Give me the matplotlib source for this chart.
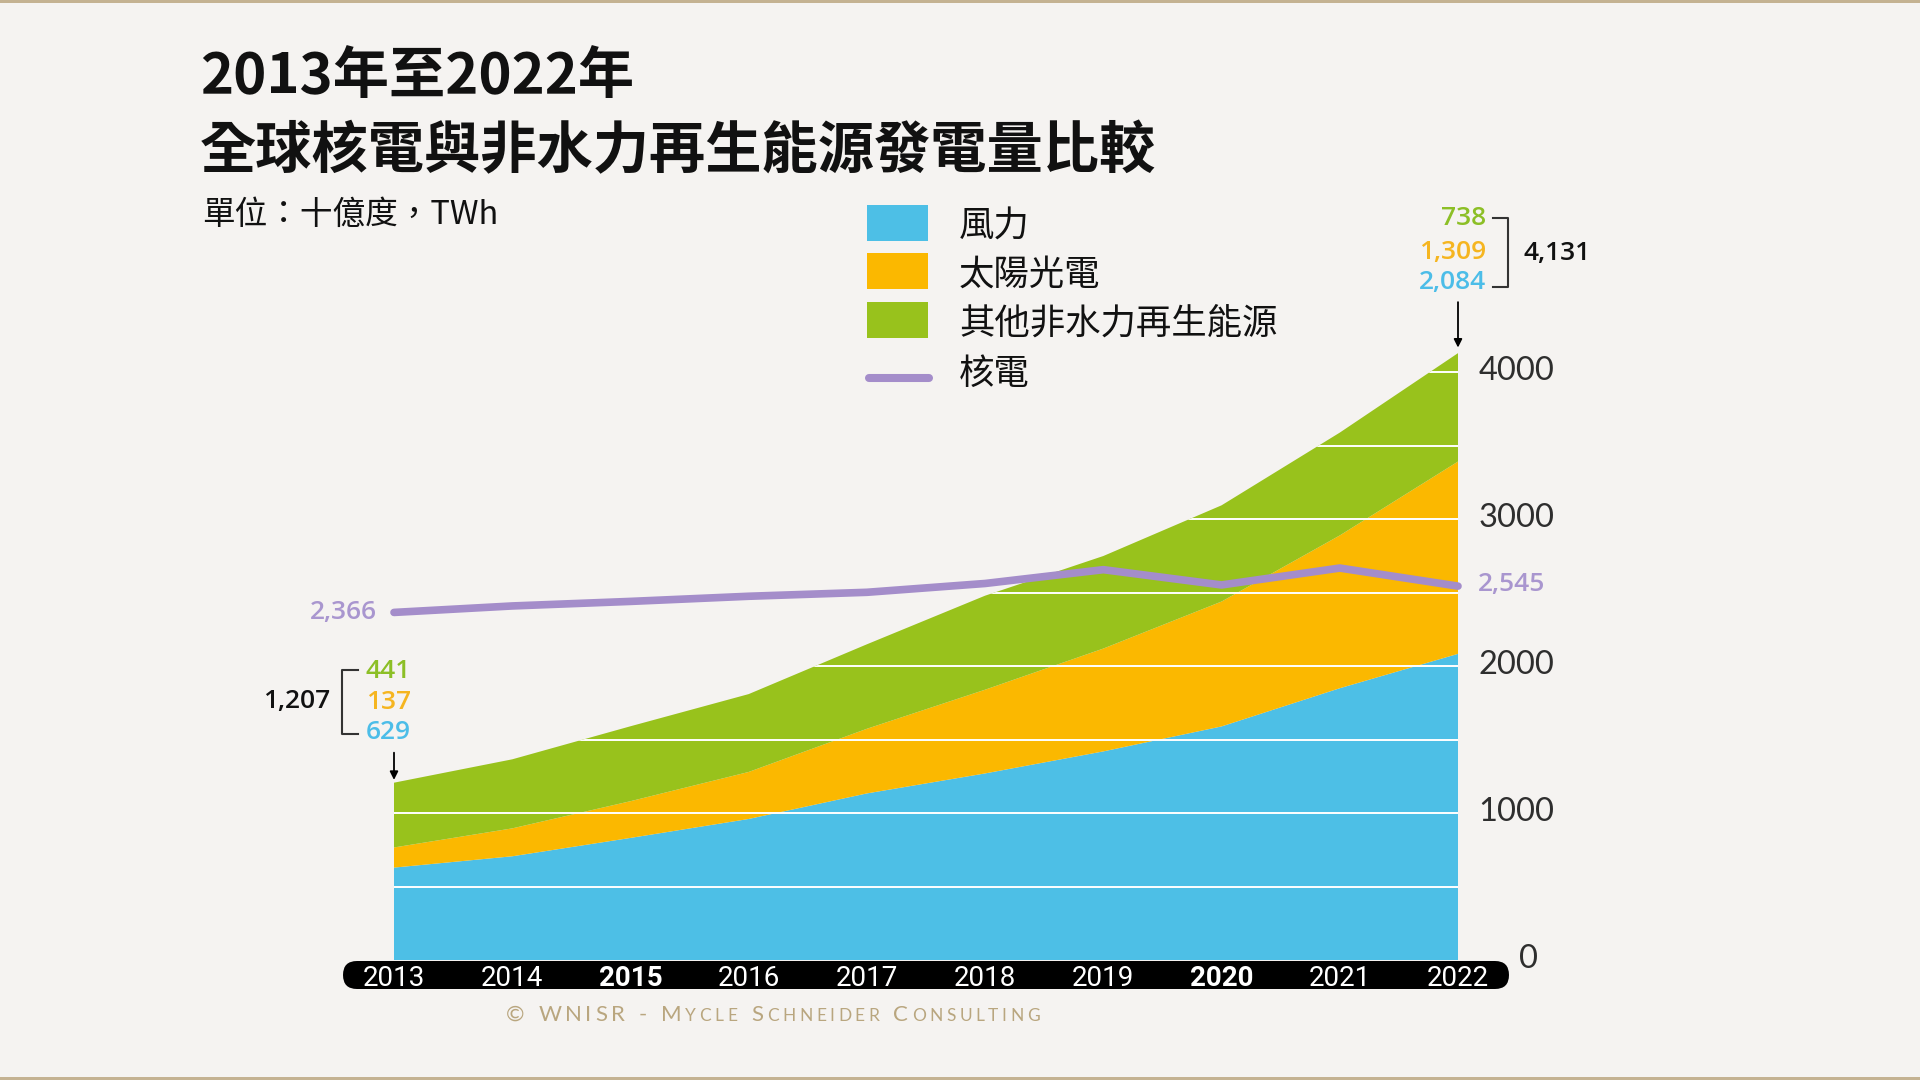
import matplotlib
matplotlib.use("Agg")
import matplotlib.pyplot as plt
from matplotlib.lines import Line2D
from matplotlib.patches import FancyBboxPatch, Rectangle
from matplotlib.transforms import (IdentityTransform, ScaledTranslation,
                                   blended_transform_factory)

# data (TWh)
years = [2013, 2014, 2015, 2016, 2017, 2018, 2019, 2020, 2021, 2022]
wind = [629, 706, 831, 960, 1134, 1270, 1420, 1590, 1850, 2084]
solar = [137, 190, 250, 320, 440, 570, 700, 850, 1040, 1309]
other = [441, 470, 510, 530, 575, 640, 630, 655, 700, 738]
nuclear = [2366, 2410, 2441, 2476, 2503, 2563, 2657, 2553, 2668, 2545]

series_names = ["風力", "太陽光電", "其他非水力再生能源"]
nuclear_name = "核電"
y_ticks = [0, 1000, 2000, 3000, 4000]
grid_values = [500, 1000, 1500, 2000, 2500, 3000, 3500, 4000]
bold_years = [2015, 2020]

BG = "#f5f3f1"
WIND = "#4dbfe6"
SOLAR = "#fbb800"
OTHER = "#98c21c"
NUKE = "#a48dca"
NUKE_TXT = "#a996cf"
TAN = "#b9a67f"
NUM_FONT = ["Open Sans", "DejaVu Sans"]

plt.rcParams['font.family'] = ['Noto Sans CJK TC', 'DejaVu Sans']

W, H = 1920, 1080


def fx(x):
    return x / W


def fy(y):
    return 1 - y / H


fig = plt.figure(figsize=(19.2, 10.8), dpi=100, facecolor=BG)
ax = fig.add_axes([fx(394), fy(960), 1064 / W, 617 / H])
ax.set_facecolor("none")
ax.set_xlim(years[0], years[-1])
ax.set_ylim(0, 4200)
for s in ax.spines.values():
    s.set_visible(False)

ax.stackplot(years, wind, solar, other, colors=[WIND, SOLAR, OTHER],
             linewidth=0, zorder=1)
total = [w + s + o for w, s, o in zip(wind, solar, other)]
area = ax.fill_between(years, 0, total, color="none", linewidth=0)
for v in grid_values:
    gl = ax.axhline(v, color="white", lw=1.4, zorder=2)
    gl.set_clip_path(area.get_paths()[0], ax.transData)

ax.plot(years, nuclear, color=NUKE, lw=5.5, solid_capstyle="round",
        solid_joinstyle="round", zorder=4, clip_on=False)

ax.yaxis.tick_right()
ax.set_yticks(y_ticks)
ax.set_yticklabels([str(v) for v in y_ticks], family=["Lato", "DejaVu Sans"],
                   fontsize=23.5, color="#2e2e2e", ha="center")
ax.tick_params(axis="y", length=0, pad=42)
ax.set_xticks([])
for i, tick in enumerate(ax.yaxis.get_major_ticks()):
    dx = 0.12 if i == 0 else 0.0
    tick.label2.set_transform(tick.label2.get_transform()
                              + ScaledTranslation(dx, 0.045, fig.dpi_scale_trans))

# year bar under the plot
px = IdentityTransform()
x0 = ax.transData.transform((years[0], 0))[0] - 51
x1 = ax.transData.transform((years[-1], 0))[0] + 51
fig.add_artist(FancyBboxPatch((x0, 91), x1 - x0, 28,
                              boxstyle="round,pad=0,rounding_size=14",
                              transform=px, facecolor="black", edgecolor="none"))
ytrans = blended_transform_factory(ax.transData, px)
for yr in years:
    fig.text(yr, 104, str(yr), transform=ytrans, ha="center", va="center_baseline",
             color="white", fontsize=20,
             fontweight="bold" if yr in bold_years else "normal",
             family=["Roboto", "DejaVu Sans"], zorder=6)

# titles
fig.text(fx(200), fy(76), "2013年至2022年", fontsize=40.5, fontweight="black",
         va="center", color="#111")
fig.text(fx(200), fy(152), "全球核電與非水力再生能源發電量比較", fontsize=40.5,
         fontweight="black", va="center", color="#111")
fig.text(fx(202), fy(215), "單位：十億度，TWh", fontsize=23.5, va="center",
         color="#111")

# legend
for name, col, yc in zip(series_names, [WIND, SOLAR, OTHER], [223, 271, 320]):
    fig.add_artist(Rectangle((fx(867), fy(yc + 18)), 61 / W, 36 / H,
                             transform=fig.transFigure, facecolor=col,
                             edgecolor="none"))
    fig.text(fx(959), fy(yc + 4), name, fontsize=25.5, va="center", color="#111")
fig.add_artist(Line2D([fx(869), fx(929)], [fy(378), fy(378)],
                      transform=fig.transFigure, color=NUKE, lw=5.8,
                      solid_capstyle="round"))
fig.text(fx(959), fy(374), nuclear_name, fontsize=25.5, va="center", color="#111")

num_kw = dict(transform=px, va="center", family=NUM_FONT, fontsize=19,
              fontweight="semibold")

# left breakdown (2013)
ax0, ay0 = ax.transData.transform((years[0], total[0]))
fig.text(ax0 - 28, ay0 + 111, f"{other[0]:,}", ha="left", color="#8cbf26", **num_kw)
fig.text(ax0 - 28, ay0 + 80, f"{solar[0]:,}", ha="left", color="#f5b520", **num_kw)
fig.text(ax0 - 28, ay0 + 50, f"{wind[0]:,}", ha="left", color="#4cbde8", **num_kw)
fig.text(ax0 - 64, ay0 + 81, f"{total[0]:,}", ha="right", color="#111", **num_kw)
fig.add_artist(Line2D([ax0 - 36, ax0 - 52, ax0 - 52, ax0 - 36],
                      [ay0 + 113, ay0 + 113, ay0 + 49, ay0 + 49],
                      transform=px, color="#333", lw=1.5))
ax.annotate("", xy=(years[0], total[0]), xytext=(0, 30), textcoords="offset pixels",
            arrowprops=dict(arrowstyle="-|>", color="black", lw=1.3,
                            mutation_scale=12, shrinkA=0, shrinkB=2))

# right breakdown (2022)
bx, by = ax.transData.transform((years[-1], total[-1]))
fig.text(bx + 28, by + 135, f"{other[-1]:,}", ha="right", color="#8cbf26", **num_kw)
fig.text(bx + 28, by + 101, f"{solar[-1]:,}", ha="right", color="#f5b520", **num_kw)
fig.text(bx + 28, by + 71, f"{wind[-1]:,}", ha="right", color="#4cbde8", **num_kw)
fig.text(bx + 66, by + 100, f"{total[-1]:,}", ha="left", color="#111", **num_kw)
fig.add_artist(Line2D([bx + 35, bx + 50, bx + 50, bx + 35],
                      [by + 135, by + 135, by + 66, by + 66],
                      transform=px, color="#333", lw=1.5))
ax.annotate("", xy=(years[-1], total[-1]), xytext=(0, 51), textcoords="offset pixels",
            arrowprops=dict(arrowstyle="-|>", color="black", lw=1.3,
                            mutation_scale=12, shrinkA=0, shrinkB=4))

# nuclear end labels
n0x, n0y = ax.transData.transform((years[0], nuclear[0]))
fig.text(n0x - 17, n0y, f"{nuclear[0]:,}", ha="right", color=NUKE_TXT, **num_kw)
n9x, n9y = ax.transData.transform((years[-1], nuclear[-1]))
fig.text(n9x + 20, n9y + 2, f"{nuclear[-1]:,}", ha="left", color=NUKE_TXT, **num_kw)

# footer in small caps with letter spacing
renderer = fig.canvas.get_renderer()
footer = "© WNISR - Mycle Schneider Consulting"
pieces = []
natural = 0
for ch in footer:
    size = 16 if (ch.isupper() or not ch.isalpha()) else 12.5
    t = fig.text(0, 59, ch.upper(), transform=px, fontsize=size, color=TAN,
                 family=["Lato", "DejaVu Sans"], va="baseline", ha="left")
    w = size * 0.3 * 100 / 72 if ch == " " else t.get_window_extent(renderer).width
    pieces.append((t, w))
    natural += w
track = (534 - natural) / (len(pieces) - 1)
cx = 506
for t, w in pieces:
    t.set_x(cx)
    cx += w + track

# thin tan borders
fig.add_artist(Rectangle((0, 1 - 3 / H), 1, 3 / H, transform=fig.transFigure,
                         facecolor="#c4b292", edgecolor="none"))
fig.add_artist(Rectangle((0, 0), 1, 3 / H, transform=fig.transFigure,
                         facecolor="#c4b292", edgecolor="none"))

fig.savefig("out.png", dpi=100, facecolor=BG)
